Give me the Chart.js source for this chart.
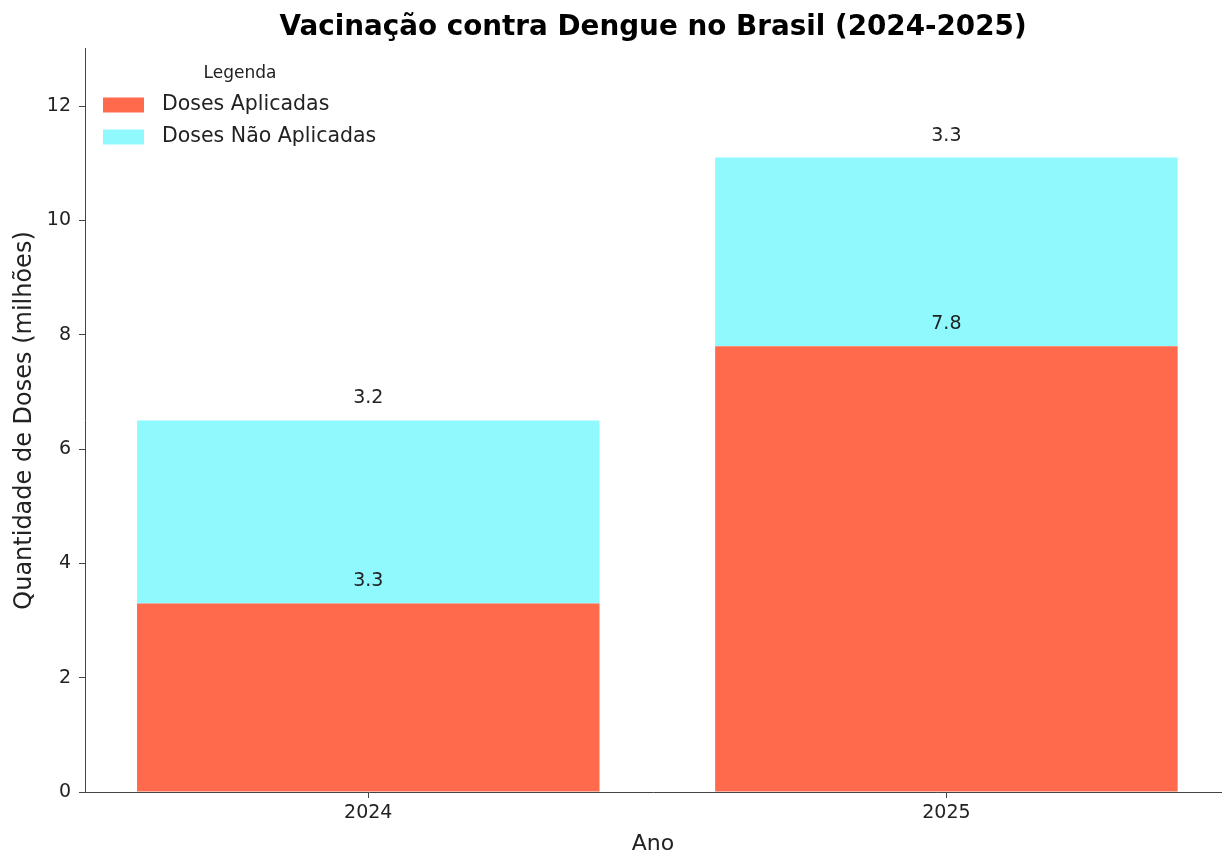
<!DOCTYPE html>
<html>
<head>
<meta charset="utf-8">
<script src="https://cdn.jsdelivr.net/npm/chart.js@4"></script>
<style>
  html, body { margin: 0; padding: 0; background: #fff; overflow: hidden; }
  #wrap { width: 1222px; height: 853px; }
</style>
</head>
<body>
<div id="wrap"><canvas id="chart"></canvas></div>
<script>
// dados do gráfico
const anos = ['2024', '2025'];
const dosesAplicadas = [3.3, 7.8];
const dosesNaoAplicadas = [3.2, 3.3];
const yTicks = [0, 2, 4, 6, 8, 10, 12];

const FONT = "'DejaVu Sans', sans-serif";
const corAplicadas = '#FF6A4D';
const corNaoAplicadas = '#8FF9FD';

// rótulos com o valor acima de cada segmento
const rotulosPlugin = {
    id: 'rotulos',
    afterDatasetsDraw(chart) {
        const ctx = chart.ctx;
        ctx.save();
        ctx.font = '19px ' + FONT;
        ctx.fillStyle = '#222';
        ctx.textAlign = 'center';
        ctx.textBaseline = 'alphabetic';
        chart.data.datasets.forEach((ds, i) => {
            const meta = chart.getDatasetMeta(i);
            meta.data.forEach((bar, j) => {
                ctx.fillText(ds.data[j].y.toFixed(1), bar.x, bar.y - 17);
            });
        });
        ctx.restore();
    }
};

// legenda dentro da área do gráfico, sem moldura
const legendaPlugin = {
    id: 'legenda',
    afterDraw(chart) {
        const ctx = chart.ctx;
        ctx.save();
        ctx.fillStyle = '#222';
        ctx.textAlign = 'center';
        ctx.textBaseline = 'middle';
        ctx.font = '17px ' + FONT;
        ctx.fillText('Legenda', 240, 74);
        ctx.font = '20.5px ' + FONT;
        ctx.textAlign = 'left';
        chart.data.datasets.forEach((ds, i) => {
            const yc = 105 + i * 32;
            ctx.fillStyle = ds.backgroundColor;
            ctx.fillRect(103, yc - 7.5, 41, 15);
            ctx.fillStyle = '#222';
            ctx.fillText(ds.label, 162, yc);
        });
        ctx.restore();
    }
};

const ctx = document.getElementById('chart').getContext('2d');
new Chart(ctx, {
    type: 'bar',
    data: {
        datasets: [
            {
                label: 'Doses Aplicadas',
                data: anos.map((a, i) => ({ x: i, y: dosesAplicadas[i] })),
                backgroundColor: corAplicadas
            },
            {
                label: 'Doses Não Aplicadas',
                data: anos.map((a, i) => ({ x: i, y: dosesNaoAplicadas[i] })),
                backgroundColor: corNaoAplicadas
            }
        ]
    },
    options: {
        responsive: true,
        maintainAspectRatio: false,
        animation: false,
        barPercentage: 0.8,
        categoryPercentage: 1,
        layout: { padding: { left: 0, right: 1, top: 0, bottom: 0 } },
        plugins: {
            legend: { display: false },
            tooltip: { enabled: false },
            title: {
                display: true,
                fullSize: false,
                text: 'Vacinação contra Dengue no Brasil (2024-2025)',
                color: '#000',
                font: { family: FONT, size: 27.8, weight: 'bold', lineHeight: 1.2 },
                padding: { top: 11, bottom: 4.6 }
            }
        },
        scales: {
            x: {
                type: 'linear',
                stacked: true,
                offset: false,
                min: -0.49,
                max: 1.475,
                afterBuildTicks: s => { s.ticks = anos.map((a, i) => ({ value: i })); },
                afterFit: s => { s.height = 61; },
                ticks: {
                    callback: v => anos[v],
                    color: '#222',
                    font: { family: FONT, size: 19 },
                    padding: 4,
                    maxRotation: 0
                },
                grid: { offset: false, drawOnChartArea: false, drawTicks: true, tickLength: 6, color: '#444' },
                border: { color: '#444', width: 1 },
                title: {
                    display: true,
                    text: 'Ano',
                    color: '#222',
                    font: { family: FONT, size: 22, lineHeight: 0.8 },
                    padding: { top: 0, bottom: 0 }
                }
            },
            y: {
                stacked: true,
                min: 0,
                max: 13,
                afterBuildTicks: s => { s.ticks = yTicks.map(v => ({ value: v })); },
                afterFit: s => { s.width = 85; },
                ticks: {
                    color: '#222',
                    font: { family: FONT, size: 19 },
                    padding: 8
                },
                grid: { drawOnChartArea: false, drawTicks: true, tickLength: 6, color: '#444' },
                border: { color: '#444', width: 1 },
                title: {
                    display: true,
                    text: 'Quantidade de Doses (milhões)',
                    color: '#222',
                    font: { family: FONT, size: 24, lineHeight: 1.2 },
                    padding: { top: 10, bottom: 0 }
                }
            }
        }
    },
    plugins: [rotulosPlugin, legendaPlugin]
});
</script>
</body>
</html>
